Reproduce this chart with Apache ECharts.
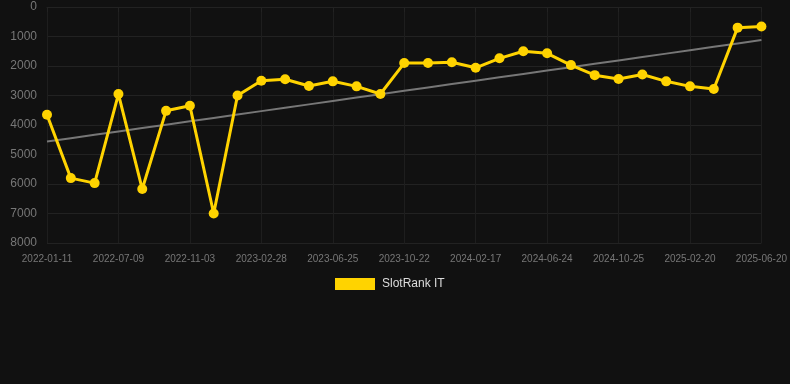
<!DOCTYPE html>
<html>
<head>
<meta charset="utf-8">
<script src="https://cdn.jsdelivr.net/npm/echarts@6/dist/echarts.min.js"></script>
<style>
html,body{margin:0;padding:0;background:#111111;}
#c{width:790px;height:384px;}
</style>
</head>
<body>
<div id="c"></div>
<script>
const categories = [
  '2022-01-11','2022-03-09','2022-05-09','2022-07-09','2022-08-17','2022-09-25',
  '2022-11-03','2022-12-12','2023-01-20','2023-02-28','2023-04-08','2023-05-17',
  '2023-06-25','2023-08-03','2023-09-12','2023-10-22','2023-11-30','2024-01-08',
  '2024-02-17','2024-03-29','2024-05-12','2024-06-24','2024-08-04','2024-09-14',
  '2024-10-25','2024-12-03','2025-01-11','2025-02-20','2025-03-31','2025-05-10',
  '2025-06-20'
];
const slotRankIT = [
  3650, 5800, 5970, 2950, 6170, 3520, 3350, 7000, 3000, 2500, 2450, 2680,
  2520, 2690, 2950, 1900, 1900, 1870, 2060, 1740, 1500, 1570, 1970, 2310,
  2440, 2290, 2520, 2690, 2780, 700, 660
];
const yTicks = [0, 1000, 2000, 3000, 4000, 5000, 6000, 7000, 8000];

// least-squares trend line from the series
const n = slotRankIT.length;
let sx = 0, sy = 0, sxy = 0, sxx = 0;
slotRankIT.forEach((v, i) => { sx += i; sy += v; sxy += i * v; sxx += i * i; });
const slope = (n * sxy - sx * sy) / (n * sxx - sx * sx);
const icpt = (sy - slope * sx) / n;
const trend = slotRankIT.map((v, i) => +(icpt + slope * i).toFixed(1));

const chart = echarts.init(document.getElementById('c'), null, {renderer: 'canvas'});
chart.setOption({
  backgroundColor: '#111111',
  animation: false,
  grid: {left: 47, right: 28, top: 7, bottom: 141, containLabel: false},
  legend: {
    top: 278,
    left: 335,
    data: [{name: 'SlotRank IT', icon: 'rect'}],
    itemWidth: 40,
    itemHeight: 12,
    itemGap: 10,
    padding: 0,
    textStyle: {color: '#dddddd', fontSize: 12, padding: [0, 0, 0, 2], fontFamily: 'Liberation Sans, Arial, sans-serif'}
  },
  xAxis: {
    type: 'category',
    data: categories,
    boundaryGap: false,
    axisLine: {show: true, lineStyle: {color: '#222222'}},
    axisTick: {show: true, interval: 2, lineStyle: {color: '#222222'}},
    axisLabel: {interval: 2, color: '#777777', fontSize: 10, margin: 11, fontFamily: 'Liberation Sans, Arial, sans-serif'},
    splitLine: {show: true, interval: 2, lineStyle: {color: '#1e1e1e'}}
  },
  yAxis: {
    type: 'value',
    inverse: true,
    min: yTicks[0],
    max: yTicks[yTicks.length - 1],
    interval: 1000,
    axisLine: {show: false},
    axisTick: {show: false},
    axisLabel: {color: '#777777', fontSize: 12, margin: 10, formatter: v => String(v), fontFamily: 'Liberation Sans, Arial, sans-serif'},
    splitLine: {lineStyle: {color: '#222222'}}
  },
  series: [
    {
      name: 'Trend',
      type: 'line',
      data: trend,
      symbol: 'none',
      lineStyle: {color: '#777777', width: 2},
      silent: true,
      z: 1
    },
    {
      name: 'SlotRank IT',
      type: 'line',
      data: slotRankIT,
      symbol: 'circle',
      symbolSize: 10,
      itemStyle: {color: '#FFD300'},
      lineStyle: {color: '#FFD300', width: 3},
      z: 2
    }
  ]
});
</script>
</body>
</html>
